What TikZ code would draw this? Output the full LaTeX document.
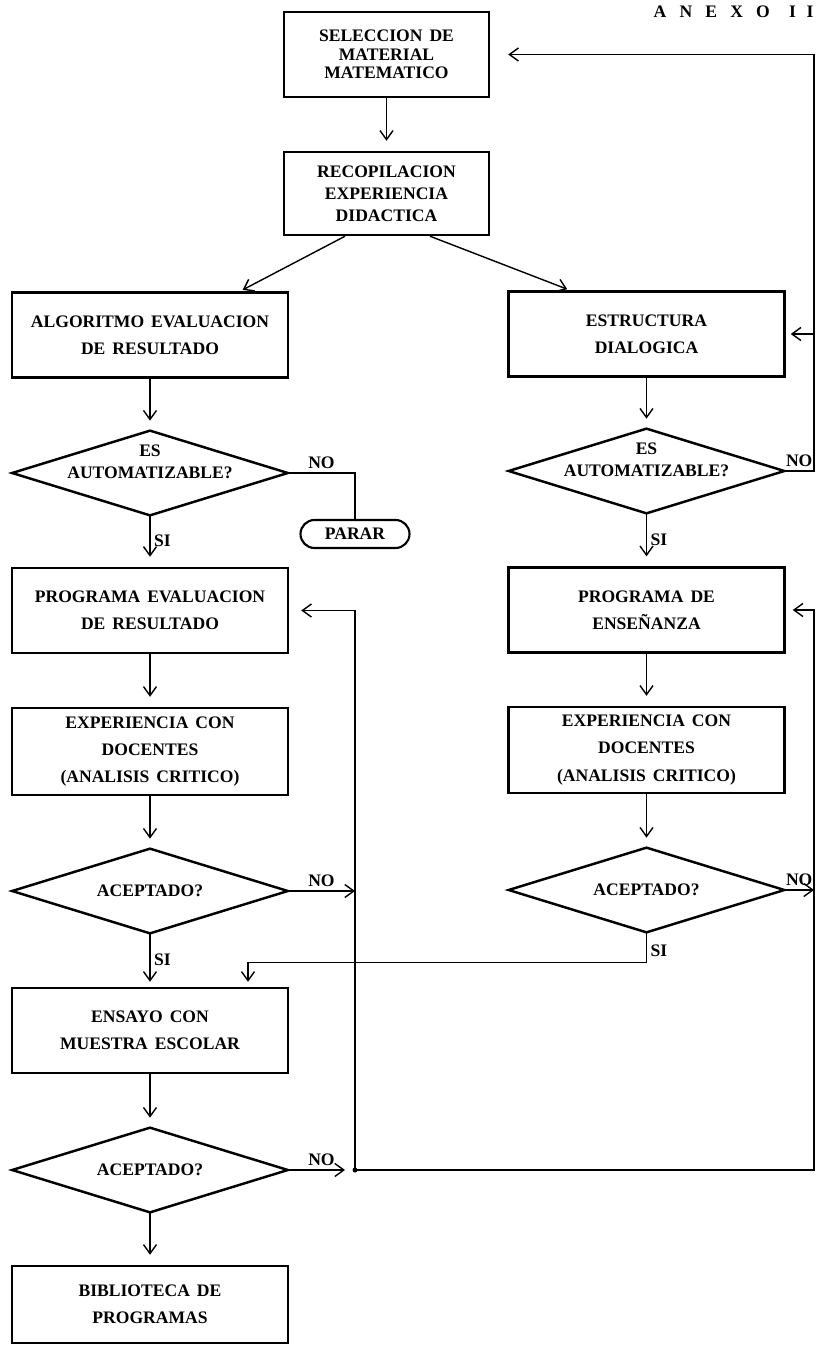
\documentclass[tikz,border=0pt]{standalone}
\usepackage{fontspec}
\setmainfont{Liberation Serif}[WordSpace=1.6]
\usetikzlibrary{arrows.meta,calc}

\tikzset{
	proc/.style={draw, line width=1.4pt, minimum width=5.52cm, minimum height=1.7cm, inner sep=2pt, align=center, font=\fontsize{10}{15.4}\selectfont\bfseries},
	decision/.style={minimum width=5.5cm, minimum height=1.68cm, inner sep=0pt, align=center, font=\fontsize{10}{12.5}\selectfont\bfseries},
	flow/.style={line width=0.8pt, -{Straight Barb[length=0.18cm,width=0.26cm]}, shorten >=0.2cm},
	wire/.style={line width=0.8pt},
	lbl/.style={font=\fontsize{10}{12}\selectfont\bfseries, inner sep=2pt},
}

\begin{document}
\begin{tikzpicture}
	\useasboundingbox (0,0) rectangle (16.32,-27);

	\node[anchor=west, font=\fontsize{10}{10}\selectfont\bfseries] (anexo) at (12.95,-0.24) {A\hspace{0.75em}N\hspace{0.75em}E\hspace{0.75em}X\hspace{0.75em}O\hspace{1.1em}I\hspace{0.6em}I};

	\node[proc, minimum width=4.1cm, font=\fontsize{10}{10.5}\selectfont\bfseries] (sel) at (7.73,-1.09) {SELECCION DE\\ MATERIAL\\ MATEMATICO};
	\node[proc, minimum width=4.1cm, minimum height=1.66cm, font=\fontsize{10}{12.5}\selectfont\bfseries] (rec) at (7.73,-3.87) {RECOPILACION\\ EXPERIENCIA\\ DIDACTICA};

	% left column
	\node[proc] (alg) at (3,-6.7) {ALGORITMO EVALUACION\\ DE RESULTADO};
	\node[decision] (aut1) at (3,-9.46) {ES\\ AUTOMATIZABLE?\\ \mbox{}};
	\node[draw, line width=1.2pt, rounded corners=0.28cm, minimum width=2.18cm, minimum height=0.56cm, inner sep=0pt, font=\fontsize{10}{12}\selectfont\bfseries] (parar) at (7.1,-10.68) {PARAR};
	\node[proc] (pev) at (3,-12.21) {PROGRAMA EVALUACION\\ DE RESULTADO};
	\node[proc, minimum height=1.74cm] (exl) at (3,-15.03) {EXPERIENCIA CON\\ DOCENTES\\ (ANALISIS CRITICO)};
	\node[decision] (ac1) at (3,-17.82) {ACEPTADO?};
	\node[proc] (ens) at (3,-20.61) {ENSAYO CON\\ MUESTRA ESCOLAR};
	\node[decision] (ac3) at (3,-23.4) {ACEPTADO?};
	\node[proc, minimum height=1.54cm] (bib) at (3,-26.09) {BIBLIOTECA DE\\ PROGRAMAS};

	% right column
	\node[proc] (est) at (12.93,-6.68) {ESTRUCTURA\\ DIALOGICA};
	\node[decision] (aut2) at (12.93,-9.42) {ES\\ AUTOMATIZABLE?\\ \mbox{}};
	\node[proc] (pen) at (12.93,-12.2) {PROGRAMA DE\\ ENSEÑANZA};
	\node[proc, minimum height=1.72cm] (exr) at (12.93,-15) {EXPERIENCIA CON\\ DOCENTES\\ (ANALISIS CRITICO)};
	\node[decision] (ac2) at (12.93,-17.8) {ACEPTADO?};

	\foreach \d in {aut1,aut2,ac1,ac2,ac3}
		\draw[line width=1.4pt] (\d.north) -- (\d.east) -- (\d.south) -- (\d.west) -- cycle;

	% return lines
	\coordinate (jn) at (7.1,-23.4);
	\coordinate (rb) at (16.28,-23.4);
	\coordinate (ra) at (16.28,-9.42);

	\foreach \a/\b in {sel/rec, alg/aut1, pev/exl, exl/ac1, ens/ac3, ac3/bib, est/aut2, pen/exr, exr/ac2}
		\draw[flow] (\a.south) -- (\b.north);

	\draw[flow, shorten >=0.06cm] ([xshift=-0.83cm]rec.south) -- ([xshift=1.8cm]alg.north);
	\draw[flow, shorten >=0.06cm] ([xshift=0.87cm]rec.south) -- ([xshift=-1.53cm]est.north);

	\draw[wire] (aut1.east) -| node[lbl, above, pos=0.25]{NO} (parar.north);
	\draw[flow] (aut1.south) -- node[lbl, right]{SI} (pev.north);
	\draw[flow] (aut2.south) -- node[lbl, right]{SI} (pen.north);
	\draw[flow, shorten >=0.1cm] (ac1.south) -- node[lbl, right]{SI} (ens.north);
	\draw[flow, shorten >=0.1cm] (ac2.south) -- node[lbl, right, pos=0.6]{SI} ++(0,-0.6) -| ([xshift=1.96cm]ens.north);

	\draw[flow, shorten >=0pt] (ac1.east) -- node[lbl, above]{NO} (ac1.east -| jn);
	\draw[flow] (ac3.east) -- node[lbl, above]{NO} (jn);
	\fill (jn) circle (0.05);
	\draw[flow, shorten >=0.24cm] (jn) |- (pev.east);
	\draw[flow, shorten >=0.14cm] (jn) -- (rb) |- (pen.east);

	\draw[flow, shorten >=0.36cm] (aut2.east) -- node[lbl, above]{NO} (ra) |- (sel.east);
	\draw[flow, shorten >=0.1cm] (ra) |- (est.east);
	\draw[flow, shorten >=0pt] (ac2.east) -- node[lbl, above]{NO} (ac2.east -| rb);
\end{tikzpicture}
\end{document}
